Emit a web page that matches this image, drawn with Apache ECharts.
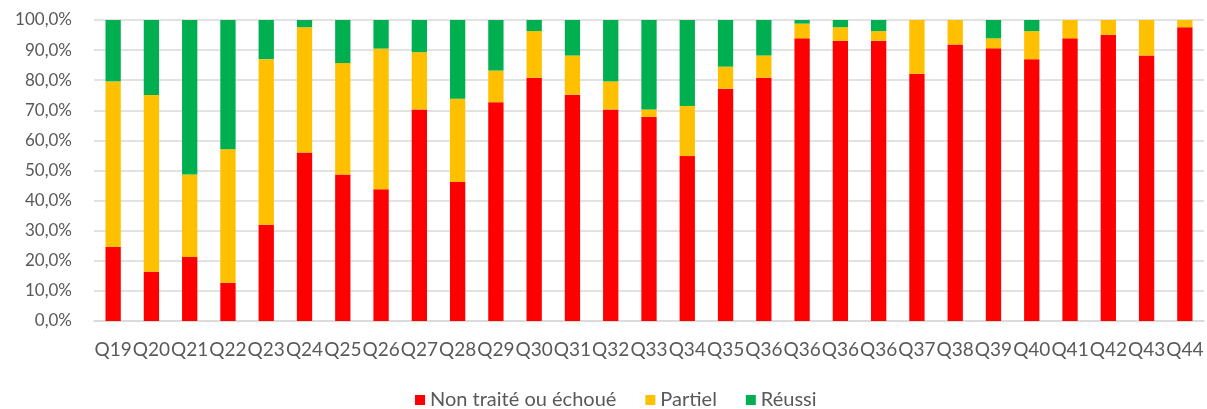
<!DOCTYPE html>
<html>
<head>
<meta charset="utf-8">
<script src="https://cdn.jsdelivr.net/npm/echarts@6/dist/echarts.min.js"></script>
<style>
html,body{margin:0;padding:0;background:#fff;}
#chart{width:1207px;height:409px;}
</style>
</head>
<body>
<div id="chart"></div>
<script>
const categories = ['Q19','Q20','Q21','Q22','Q23','Q24','Q25','Q26','Q27','Q28','Q29','Q30','Q31','Q32','Q33','Q34','Q35','Q36','Q36','Q36','Q36','Q37','Q38','Q39','Q40','Q41','Q42','Q43','Q44'];
const echoue = [24.6,16.4,21.3,12.7,32.0,56.0,48.7,43.8,70.3,46.2,72.7,80.8,75.2,70.3,67.8,54.8,77.2,80.8,93.9,93.1,93.1,82.1,91.9,90.6,87.0,93.9,95.1,88.2,97.6];
const partiel = [55.0,58.7,27.4,44.4,55.0,41.6,37.0,46.7,19.0,27.6,10.5,15.5,13.0,9.3,2.5,16.6,7.3,7.4,4.9,4.5,3.2,17.9,8.1,3.3,9.3,6.1,4.9,11.8,2.4];
const reussi = [20.4,24.9,51.3,42.9,13.0,2.4,14.3,9.5,10.7,26.2,16.8,3.7,11.8,20.4,29.7,28.6,15.5,11.8,1.2,2.4,3.7,0,0,6.1,3.7,0,0,0,0];
const yTicks = [0,10,20,30,40,50,60,70,80,90,100];
const seriesNames = ['Non traité ou échoué','Partiel','Réussi'];

const textColor = '#595959';
const fontFamily = 'Lato';
const chart = echarts.init(document.getElementById('chart'), null, {renderer:'canvas'});
function mk(name, data, color){
  return {name:name, type:'bar', stack:'total', data:data, barWidth:'40%',
    itemStyle:{color:color}, emphasis:{disabled:true}};
}
chart.setOption({
  animation:false,
  grid:{left:94, right:3, top:20, bottom:88, containLabel:false},
  legend:{
    data:seriesNames, left:410, top:385, itemWidth:10, itemHeight:10, itemGap:29,
    icon:'rect',
    textStyle:{color:textColor, fontSize:20, fontFamily:fontFamily}
  },
  xAxis:{
    type:'category', data:categories,
    axisLine:{lineStyle:{color:'#d9d9d9', width:1.5}},
    axisTick:{show:false},
    axisLabel:{interval:0, color:textColor, fontSize:19, fontFamily:fontFamily, margin:19}
  },
  yAxis:{
    type:'value', min:yTicks[0], max:yTicks[yTicks.length-1], interval:10,
    axisLine:{show:false}, axisTick:{show:false},
    splitLine:{lineStyle:{color:'#d9d9d9', width:1.5}},
    axisLabel:{color:textColor, fontSize:17, fontFamily:fontFamily, margin:22,
      formatter:function(v){return v.toFixed(1).replace('.',',')+'%';}}
  },
  series:[
    mk(seriesNames[0], echoue, '#FF0000'),
    mk(seriesNames[1], partiel, '#FFC000'),
    mk(seriesNames[2], reussi, '#00B050')
  ]
});
</script>
</body>
</html>
